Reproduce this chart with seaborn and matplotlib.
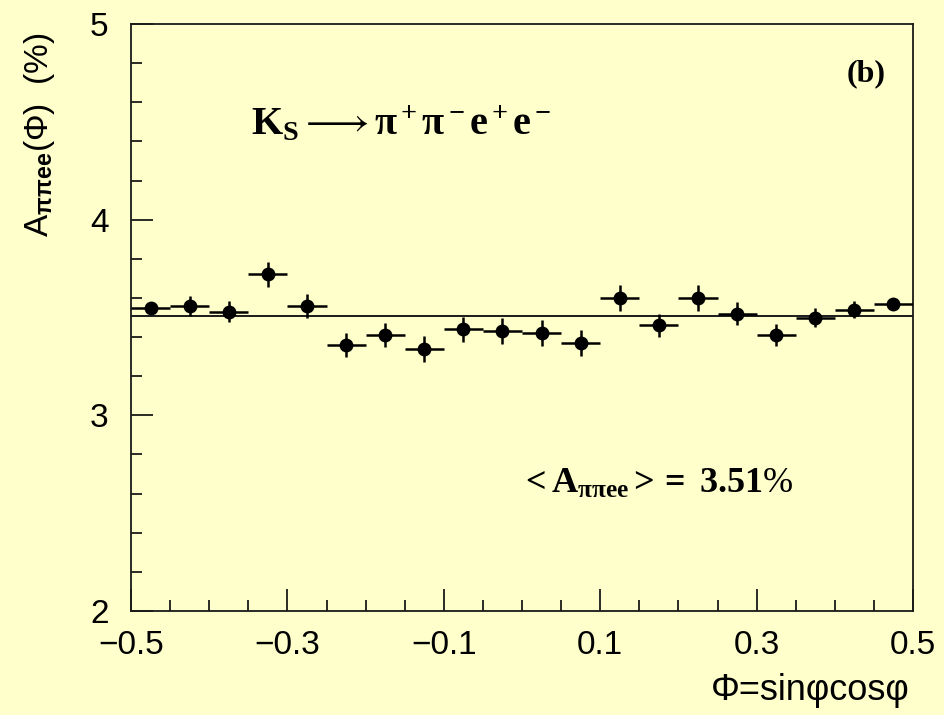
import numpy as np
import pandas as pd
import matplotlib
matplotlib.use("Agg")
import matplotlib.pyplot as plt
import seaborn as sns
from matplotlib.ticker import MultipleLocator, FixedLocator

# ---- data ----
phi_centers = [-0.475, -0.425, -0.375, -0.325, -0.275, -0.225, -0.175, -0.125, -0.075, -0.025,
               0.025, 0.075, 0.125, 0.175, 0.225, 0.275, 0.325, 0.375, 0.425, 0.475]
asym = [3.55, 3.56, 3.53, 3.72, 3.56, 3.36, 3.41, 3.34, 3.44, 3.43,
        3.42, 3.37, 3.60, 3.46, 3.60, 3.52, 3.41, 3.50, 3.54, 3.57]
asym_err = [0.03, 0.05, 0.055, 0.065, 0.06, 0.06, 0.06, 0.065, 0.065, 0.065,
            0.065, 0.065, 0.065, 0.06, 0.065, 0.06, 0.055, 0.05, 0.045, 0.03]
bin_half = [0.025] * 20
fit_x = [-0.5, 0.5]
fit_y = [3.51, 3.51]
x_ticklabels = ["\u22120.5", "\u22120.3", "\u22120.1", "0.1", "0.3", "0.5"]
y_ticklabels = ["2", "3", "4", "5"]

df = pd.DataFrame({"phi": phi_centers, "A": asym})
fit_df = pd.DataFrame({"x": fit_x, "y": fit_y})

bg = "#ffffcc"
ink = "#1a1a1a"

sns.set_style("ticks")
plt.rcParams["font.family"] = ["Liberation Sans", "DejaVu Sans"]
plt.rcParams["mathtext.fontset"] = "custom"
plt.rcParams["mathtext.rm"] = "Liberation Serif"
plt.rcParams["mathtext.bf"] = "Liberation Serif:bold"
plt.rcParams["mathtext.it"] = "Liberation Serif:italic"
plt.rcParams["mathtext.sf"] = "Liberation Sans:bold"

fig = plt.figure(figsize=(9.44, 7.15), dpi=100, facecolor=bg)
ax = fig.add_axes([131 / 944, 1 - 611 / 715, (913 - 131) / 944, (611 - 24) / 715])
ax.set_facecolor(bg)

# fit line
sns.lineplot(data=fit_df, x="x", y="y", ax=ax, color=ink, linewidth=1.4, zorder=2)

# error bars
ax.errorbar(phi_centers, asym, yerr=asym_err, xerr=bin_half, fmt="none",
            ecolor="black", elinewidth=1.8, capsize=0, zorder=3)
# points
sns.scatterplot(data=df, x="phi", y="A", ax=ax, color="black", s=100,
                edgecolor="black", linewidth=0, zorder=4)

ax.set_xlim(-0.5, 0.5)
ax.set_ylim(2, 5)

ax.xaxis.set_major_locator(FixedLocator([-0.5, -0.3, -0.1, 0.1, 0.3, 0.5]))
ax.set_xticklabels(x_ticklabels)
ax.xaxis.set_minor_locator(MultipleLocator(0.05))
ax.yaxis.set_major_locator(FixedLocator([2, 3, 4, 5]))
ax.set_yticklabels(y_ticklabels)
ax.yaxis.set_minor_locator(MultipleLocator(0.2))

ax.tick_params(axis="both", which="major", direction="in", length=16, width=1.3,
               colors=ink, labelsize=24, top=False, right=False)
ax.tick_params(axis="both", which="minor", direction="in", length=8, width=1.3,
               colors=ink, top=False, right=False)
ax.tick_params(axis="x", which="major", pad=14)
ax.tick_params(axis="y", which="major", pad=16)
for lab in ax.get_xticklabels() + ax.get_yticklabels():
    lab.set_color("black")

for sp in ax.spines.values():
    sp.set_visible(True)
    sp.set_color(ink)
    sp.set_linewidth(1.3)

ax.set_xlabel("")
ax.set_ylabel("")

# axis titles
fig.text(910 / 944, 1 - 690 / 715, "\u03a6=sin\u03c6cos\u03c6", ha="right", va="center",
         fontsize=26, color="black")
fig.text(40 / 944, 1 - 135 / 715, "A$_{\\mathsf{\\pi\\pi ee}}$(\u03a6)  (%)",
         rotation=90, ha="center", va="center", fontsize=24, color="black")

# annotations
ax.text(0.153, 0.83, r"$\mathbf{K_S} \longrightarrow \mathbf{\pi^+\pi^- e^+ e^-}$",
        transform=ax.transAxes, fontsize=29, ha="left", va="center", color="black")
ax.text(0.497, 0.215, r"$\mathbf{{<}A_{\pi\pi ee}{>} =\ 3.51}$%",
        transform=ax.transAxes, fontsize=26, ha="left", va="center", color="black",
        family="Liberation Serif")
ax.text(0.965, 0.915, "(b)", transform=ax.transAxes, fontsize=23, fontweight="bold",
        ha="right", va="center", color="black", family="Liberation Serif")

fig.savefig("out.png", dpi=100, facecolor=bg)
